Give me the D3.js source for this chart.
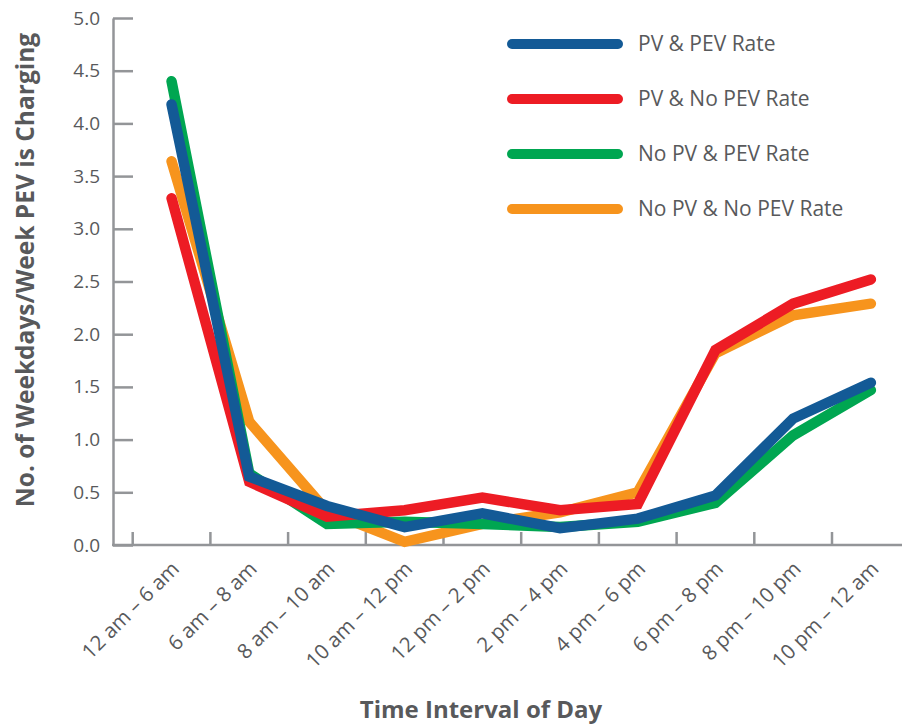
<!DOCTYPE html>
<meta charset="utf-8">
<script src="https://d3js.org/d3.v7.min.js"></script>
<style>
  body { margin: 0; background: #fff; }
  text { font-family: "Open Sans", sans-serif; fill: #58595b; }
</style>
<body>
<div id="chart"></div>
<script>
// categories (time intervals)
var intervals = ["12 am – 6 am", "6 am – 8 am", "8 am – 10 am", "10 am – 12 pm", "12 pm – 2 pm",
  "2 pm – 4 pm", "4 pm – 6 pm", "6 pm – 8 pm", "8 pm – 10 pm", "10 pm – 12 am"];

// series values
var pvPevRate     = [4.18, 0.65, 0.37, 0.17, 0.30, 0.16, 0.25, 0.47, 1.20, 1.54];
var pvNoPevRate   = [3.29, 0.60, 0.27, 0.33, 0.45, 0.33, 0.39, 1.85, 2.29, 2.52];
var noPvPevRate   = [4.40, 0.68, 0.20, 0.22, 0.20, 0.17, 0.22, 0.40, 1.04, 1.47];
var noPvNoPevRate = [3.64, 1.17, 0.32, 0.03, 0.20, 0.31, 0.50, 1.82, 2.18, 2.29];

var seriesNames = ["PV & PEV Rate", "PV & No PEV Rate", "No PV & PEV Rate", "No PV & No PEV Rate"];
var yTicks = [0, 0.5, 1, 1.5, 2, 2.5, 3, 3.5, 4, 4.5, 5];

var series = [
  { name: seriesNames[0], values: pvPevRate, color: "#135a96" },
  { name: seriesNames[1], values: pvNoPevRate, color: "#ed1c24" },
  { name: seriesNames[2], values: noPvPevRate, color: "#00a651" },
  { name: seriesNames[3], values: noPvNoPevRate, color: "#f7941d" }
];

var W = 902, H = 728;
var svg = d3.select("#chart").append("svg")
  .attr("width", W)
  .attr("height", H);

// scales
var x = d3.scaleBand()
  .domain(intervals)
  .range([132.7, 909.7]);

var y = d3.scaleLinear()
  .domain([0, 5])
  .range([545, 18]);

var axisColor = "#939598";

// y axis: ticks point inward
var yAxis = svg.append("g")
  .attr("transform", "translate(113,0)")
  .call(d3.axisRight(y).tickValues(yTicks).tickFormat(d3.format(".1f")).tickSize(20).tickSizeOuter(0));
yAxis.select(".domain").attr("stroke", axisColor).attr("stroke-width", 2.5);
yAxis.selectAll(".tick line").attr("stroke", axisColor).attr("stroke-width", 2.5);
yAxis.selectAll(".tick text")
  .attr("x", -13)
  .attr("text-anchor", "end")
  .attr("fill", "#58595b")
  .style("font-size", "19px");

// x axis: boundary ticks pointing up
var xAxisG = svg.append("g").attr("transform", "translate(0,545)");
xAxisG.append("line")
  .attr("x1", 112).attr("x2", W)
  .attr("stroke", axisColor).attr("stroke-width", 2.5);
xAxisG.selectAll(".xtick")
  .data(intervals)
  .enter()
  .append("line")
  .attr("x1", function (d) { return x(d); })
  .attr("x2", function (d) { return x(d); })
  .attr("y1", 0).attr("y2", -13)
  .attr("stroke", axisColor).attr("stroke-width", 2.5);

// rotated category labels
xAxisG.selectAll(".xlabel")
  .data(intervals)
  .enter()
  .append("text")
  .attr("text-anchor", "end")
  .attr("transform", function (d) {
    return "translate(" + (x(d) + x.bandwidth() / 2 + 9) + "," + 25 + ") rotate(-45)";
  })
  .style("font-size", "20.5px")
  .text(function (d) { return d; });

// lines, drawn bottom-up: orange, green, red, blue
var line = d3.line()
  .x(function (d, i) { return x(intervals[i]) + x.bandwidth() / 2; })
  .y(function (d) { return y(d); });

svg.append("g")
  .selectAll("path")
  .data(series.slice().reverse())
  .enter()
  .append("path")
  .attr("fill", "none")
  .attr("stroke", function (d) { return d.color; })
  .attr("stroke-width", 10.5)
  .attr("stroke-linecap", "round")
  .attr("stroke-linejoin", "miter")
  .attr("d", function (d) { return line(d.values); });

// legend
var legend = svg.append("g")
  .selectAll("g")
  .data(series)
  .enter()
  .append("g")
  .attr("transform", function (d, i) { return "translate(512," + (44 + i * 55) + ")"; });
legend.append("line")
  .attr("x1", 0).attr("x2", 106)
  .attr("stroke", function (d) { return d.color; })
  .attr("stroke-width", 10)
  .attr("stroke-linecap", "round");
legend.append("text")
  .attr("x", 126)
  .attr("dy", "0.35em")
  .style("font-size", "21px")
  .text(function (d) { return d.name; });

// axis titles
svg.append("text")
  .attr("transform", "translate(34,270) rotate(-90)")
  .attr("text-anchor", "middle")
  .style("font-size", "24.5px")
  .style("font-weight", "bold")
  .text("No. of Weekdays/Week PEV is Charging");

svg.append("text")
  .attr("x", 481)
  .attr("y", 718)
  .attr("text-anchor", "middle")
  .style("font-size", "24px")
  .style("font-weight", "bold")
  .text("Time Interval of Day");
</script>
</body>
